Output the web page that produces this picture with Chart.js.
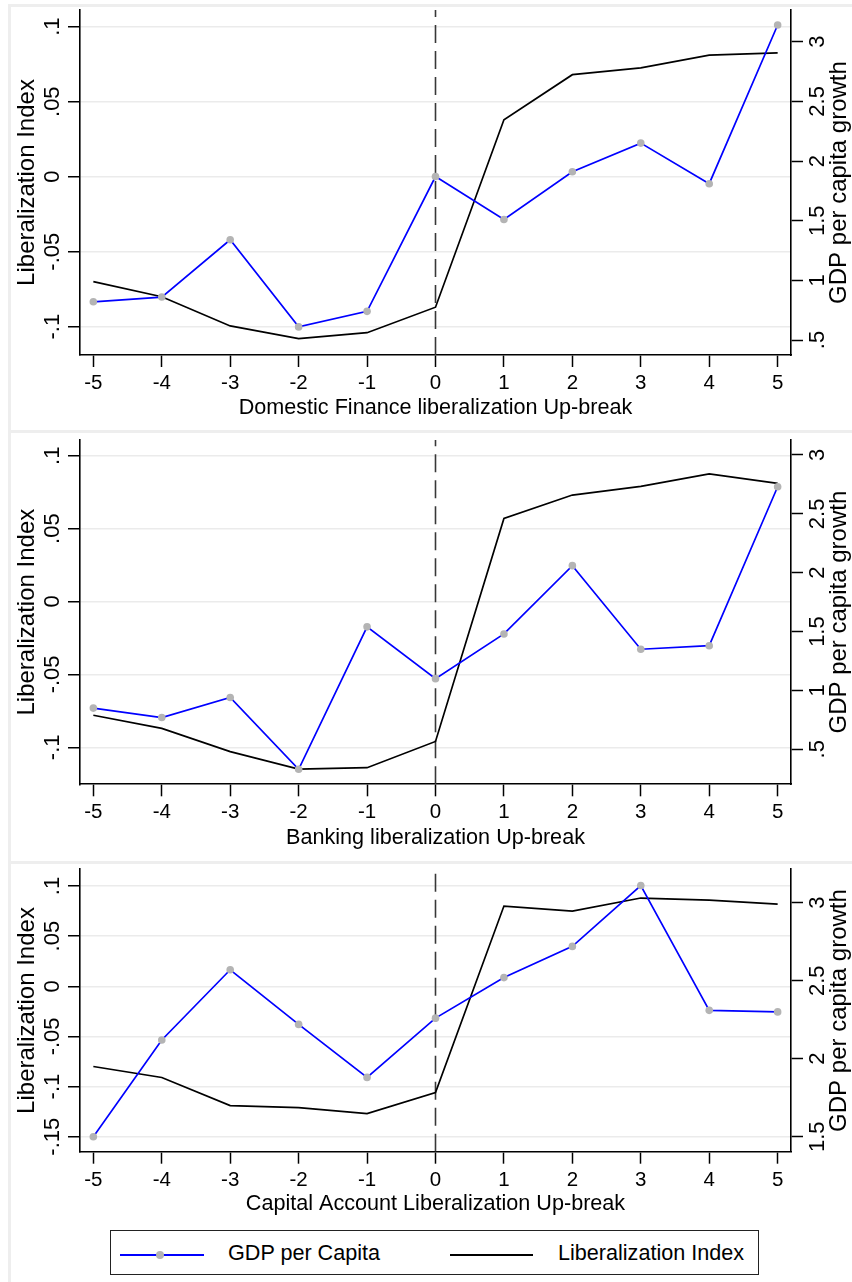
<!DOCTYPE html>
<html>
<head>
<meta charset="utf-8">
<script src="https://cdn.jsdelivr.net/npm/chart.js@4.4.1/dist/chart.umd.min.js"></script>
<style>
html,body{margin:0;padding:0;background:#fff;}
#wrap{position:relative;width:852px;height:1282px;overflow:hidden;font-family:'Liberation Sans',Arial,Helvetica,sans-serif;color:#000;}
.frame{position:absolute;background:#eeeeee;}
canvas{position:absolute;left:0;}
#legend{position:absolute;left:110px;top:1230px;width:649px;height:45px;border:1.5px solid #222;box-sizing:border-box;}
.lg{position:absolute;}
.lgtext{position:absolute;font-size:21.6px;line-height:26px;white-space:nowrap;}
</style>
</head>
<body>
<div id="wrap">
  <div class="frame" style="left:8px;top:4px;width:844px;height:3px;"></div>
  <div class="frame" style="left:8px;top:4px;width:3px;height:1278px;"></div>
  <div class="frame" style="left:8px;top:430px;width:844px;height:3px;"></div>
  <div class="frame" style="left:8px;top:861px;width:844px;height:3px;"></div>
  <canvas id="c1"></canvas>
  <canvas id="c2"></canvas>
  <canvas id="c3"></canvas>
  <div id="legend"></div>
  <div class="lg" style="left:120px;top:1254px;width:84px;height:2px;background:#0000ff;"></div>
  <div class="lg" style="left:156px;top:1251px;width:8px;height:8px;border-radius:50%;background:#b4b4b4;"></div>
  <div class="lgtext" style="left:228px;top:1240px;">GDP per Capita</div>
  <div class="lg" style="left:450px;top:1254px;width:83px;height:2px;background:#000;"></div>
  <div class="lgtext" style="left:558px;top:1240px;">Liberalization Index</div>
</div>
<script>
// ---------------- DATA ----------------
const years = [-5, -4, -3, -2, -1, 0, 1, 2, 3, 4, 5];
const xTickLabels = ['-5', '-4', '-3', '-2', '-1', '0', '1', '2', '3', '4', '5'];
const breakPeriod = 0;

const gdpDomestic = [0.82, 0.86, 1.34, 0.61, 0.74, 1.87, 1.51, 1.91, 2.15, 1.81, 3.14];
const libDomestic = [-0.070, -0.080, -0.0995, -0.108, -0.104, -0.087, 0.038, 0.068, 0.0725, 0.081, 0.0825];

const gdpBanking = [0.85, 0.77, 0.94, 0.33, 1.54, 1.10, 1.48, 2.06, 1.35, 1.38, 2.73];
const libBanking = [-0.078, -0.087, -0.103, -0.115, -0.114, -0.096, 0.057, 0.073, 0.079, 0.0875, 0.081];

const gdpCapital = [1.50, 2.12, 2.57, 2.22, 1.88, 2.26, 2.52, 2.72, 3.11, 2.31, 2.30];
const libCapital = [-0.080, -0.091, -0.119, -0.121, -0.127, -0.106, 0.080, 0.075, 0.088, 0.086, 0.082];

const libTicksA = [-0.1, -0.05, 0, 0.05, 0.1];
const libTickLabelsA = ['-.1', '-.05', '0', '.05', '.1'];
const libTicksB = [-0.15, -0.1, -0.05, 0, 0.05, 0.1];
const libTickLabelsB = ['-.15', '-.1', '-.05', '0', '.05', '.1'];
const gdpTicksA = [0.5, 1, 1.5, 2, 2.5, 3];
const gdpTickLabelsA = ['.5', '1', '1.5', '2', '2.5', '3'];
const gdpTicksB = [1.5, 2, 2.5, 3];
const gdpTickLabelsB = ['1.5', '2', '2.5', '3'];

const titles = [
  'Domestic Finance liberalization Up-break',
  'Banking liberalization Up-break',
  'Capital Account Liberalization Up-break'
];
const leftTitle = 'Liberalization Index';
const rightTitle = 'GDP per capita growth';
const seriesNames = ['GDP per Capita', 'Liberalization Index'];

// ---------------- RENDERING ----------------
const FONT = "'Liberation Sans', Arial, Helvetica, sans-serif";
Chart.defaults.font.family = FONT;
Chart.defaults.color = '#000';

function fixedTicks(values) {
  return function (scale) { scale.ticks = values.map(v => ({ value: v })); };
}

const rightTitlePlugin = {
  id: 'rightTitle',
  afterDraw(chart, args, opts) {
    if (!opts || !opts.text) return;
    const { ctx, chartArea } = chart;
    ctx.save();
    ctx.translate(opts.x, (chartArea.top + chartArea.bottom) / 2);
    ctx.rotate(-Math.PI / 2);
    ctx.font = opts.size + 'px ' + FONT;
    ctx.fillStyle = '#000';
    ctx.textAlign = 'center';
    ctx.textBaseline = 'middle';
    ctx.fillText(opts.text, 0, 0);
    ctx.restore();
  }
};

function drawPanel(id, p) {
  const canvas = document.getElementById(id);
  canvas.width = 852;
  canvas.height = p.canvasH;
  canvas.style.width = '852px';
  canvas.style.height = p.canvasH + 'px';
  canvas.style.top = p.canvasTop + 'px';
  const plotTop = p.plotTop - p.canvasTop;
  const plotBottom = p.plotBottom - p.canvasTop;
  const xAxisH = p.canvasH - plotBottom;
  const titleSize = 21.6;
  const titlePadBottom = xAxisH - p.titleOffset - titleSize * 1.2 / 2;

  new Chart(canvas, {
    type: 'line',
    data: {
      datasets: [
        {
          label: seriesNames[0], yAxisID: 'yR',
          data: years.map((x, i) => ({ x: x, y: p.gdp[i] })),
          borderColor: '#0000ff', borderWidth: 1.7,
          pointRadius: 3.8, pointHoverRadius: 3.8,
          pointBackgroundColor: '#b4b4b4', pointBorderWidth: 0, pointBorderColor: '#b4b4b4',
          tension: 0
        },
        {
          label: seriesNames[1], yAxisID: 'yL',
          data: years.map((x, i) => ({ x: x, y: p.lib[i] })),
          borderColor: '#000000', borderWidth: 1.7, pointRadius: 0, tension: 0
        },
        {
          label: 'break', yAxisID: 'yL',
          data: [{ x: breakPeriod, y: p.yL[0] }, { x: breakPeriod, y: p.yL[1] }],
          borderColor: '#383838', borderWidth: 1.6, borderDash: [18, 8], pointRadius: 0
        }
      ]
    },
    options: {
      responsive: false, animation: false, devicePixelRatio: 1, events: [],
      layout: { padding: { top: plotTop, left: 0, right: 0, bottom: 0 } },
      plugins: {
        legend: { display: false }, tooltip: { enabled: false },
        rightTitle: { text: rightTitle, x: 839, size: 24 }
      },
      scales: {
        x: {
          type: 'linear', position: 'bottom', min: -5.195, max: 5.195,
          afterBuildTicks: fixedTicks(years),
          afterFit(s) { s.height = xAxisH; s.paddingLeft = 0; s.paddingRight = 0; },
          ticks: {
            autoSkip: false, maxRotation: 0, font: { size: 20.5 }, padding: 4,
            callback: (v, i) => xTickLabels[i]
          },
          grid: { drawOnChartArea: false, drawTicks: true, tickLength: 12, tickColor: '#000', tickWidth: 1.5 },
          border: { display: true, color: '#000', width: 1.6 },
          title: { display: true, text: p.title, font: { size: titleSize }, padding: { top: 0, bottom: titlePadBottom } }
        },
        yL: {
          type: 'linear', position: 'left', min: p.yL[0], max: p.yL[1],
          afterBuildTicks: fixedTicks(p.libTicks),
          afterFit(s) { s.width = 80; s.paddingTop = 0; s.paddingBottom = 0; },
          ticks: {
            autoSkip: false, minRotation: 90, maxRotation: 90, crossAlign: 'center',
            font: { size: 22 }, padding: -4,
            callback: (v, i) => p.libTickLabels[i]
          },
          grid: { color: '#ebebeb', lineWidth: 1.5, drawTicks: true, tickLength: 12, tickColor: '#000', tickWidth: 1.5 },
          border: { display: true, color: '#000', width: 1.6 },
          title: { display: true, text: leftTitle, font: { size: 24 }, padding: { top: 13, bottom: 0 } }
        },
        yR: {
          type: 'linear', position: 'right', min: p.yR[0], max: p.yR[1],
          afterBuildTicks: fixedTicks(p.gdpTicks),
          afterFit(s) { s.width = 61; s.paddingTop = 0; s.paddingBottom = 0; },
          ticks: {
            autoSkip: false, minRotation: 90, maxRotation: 90, crossAlign: 'center',
            font: { size: 22 }, padding: 0,
            callback: (v, i) => p.gdpTickLabels[i]
          },
          grid: { drawOnChartArea: false, drawTicks: true, tickLength: 12, tickColor: '#000', tickWidth: 1.5 },
          border: { display: true, color: '#000', width: 1.6 },
          title: { display: false }
        }
      }
    },
    plugins: [rightTitlePlugin]
  });
}

drawPanel('c1', {
  canvasTop: 0, canvasH: 431, plotTop: 10, plotBottom: 355, titleOffset: 53.5,
  yL: [-0.11887, 0.11113], yR: [0.3743, 3.2657],
  gdp: gdpDomestic, lib: libDomestic, title: titles[0],
  libTicks: libTicksA, libTickLabels: libTickLabelsA, gdpTicks: gdpTicksA, gdpTickLabels: gdpTickLabelsA
});
drawPanel('c2', {
  canvasTop: 431, canvasH: 431, plotTop: 440, plotBottom: 784.3, titleOffset: 53.5,
  yL: [-0.12538, 0.11077], yR: [0.2027, 3.1274],
  gdp: gdpBanking, lib: libBanking, title: titles[1],
  libTicks: libTicksA, libTickLabels: libTickLabelsA, gdpTicks: gdpTicksA, gdpTickLabels: gdpTickLabelsA
});
drawPanel('c3', {
  canvasTop: 862, canvasH: 360, plotTop: 869.3, plotBottom: 1151.7, titleOffset: 52,
  yL: [-0.16496, 0.11665], yR: [1.4038, 3.2141],
  gdp: gdpCapital, lib: libCapital, title: titles[2],
  libTicks: libTicksB, libTickLabels: libTickLabelsB, gdpTicks: gdpTicksB, gdpTickLabels: gdpTickLabelsB
});
</script>
</body>
</html>
